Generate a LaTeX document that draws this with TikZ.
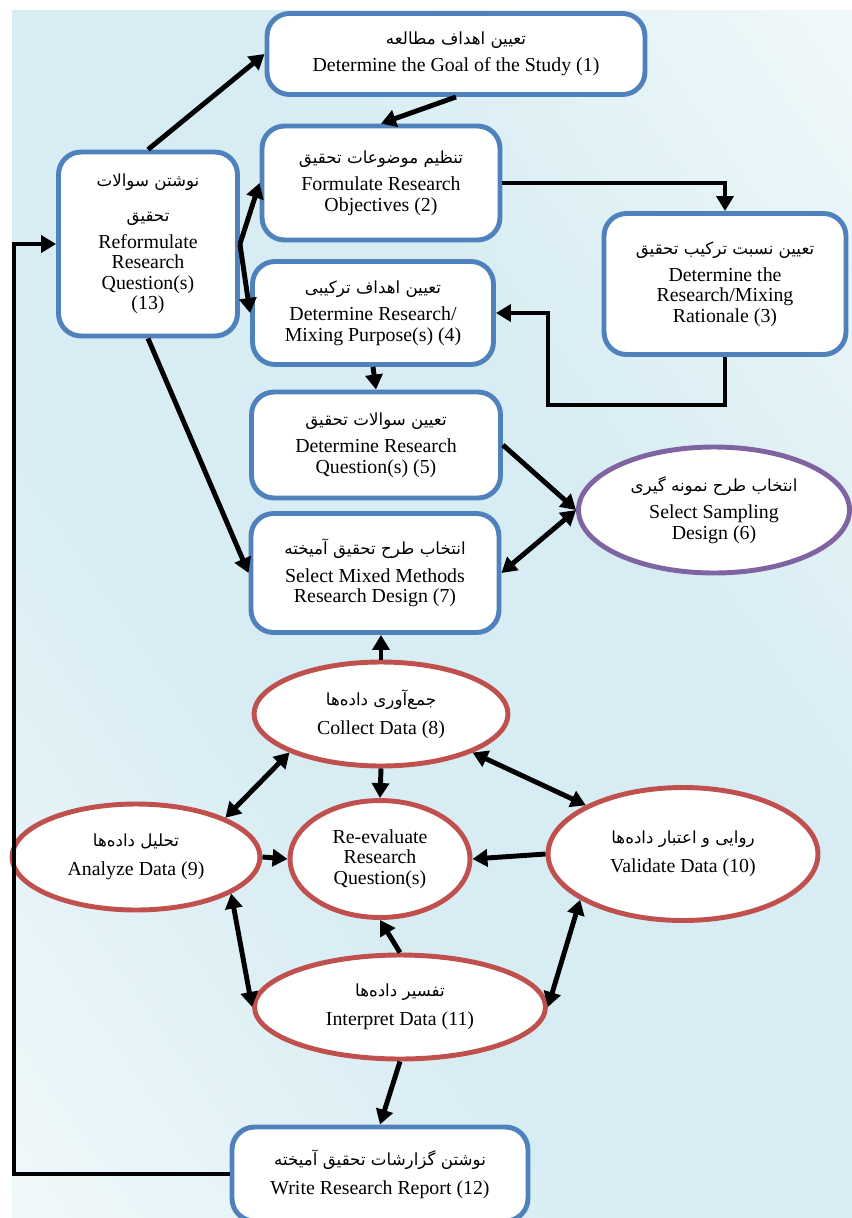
\documentclass[tikz,border=0pt]{standalone}
\usepackage{fontspec}
\setmainfont{Liberation Serif}
\newfontfamily\farsifont[Script=Arabic]{DejaVu Sans}
\TeXXeTstate=1
\usetikzlibrary{shapes.geometric,arrows.meta}
\definecolor{boxblue}{HTML}{4F81BD}
\definecolor{ovalred}{HTML}{C0504D}
\definecolor{ovalpurple}{HTML}{8064A2}
\definecolor{bgblue}{HTML}{D8EDF3}
\definecolor{bgpale}{HTML}{FBFDFE}
\pgfdeclareverticalshading{bgband}{100bp}{color(0bp)=(bgpale); color(18bp)=(bgpale); color(42bp)=(bgblue); color(58bp)=(bgblue); color(82bp)=(bgpale); color(100bp)=(bgpale)}
\newcommand{\fatext}[1]{{\farsifont\fontsize{9.5}{11}\selectfont\beginR #1\endR}}

\begin{document}
\begin{tikzpicture}[x=0.02cm,y=-0.02cm,
	stepbox/.style={draw=boxblue,line width=2.8pt,rounded corners=0.45cm,fill=white,align=center,font=\fontsize{11.3}{11.6}\selectfont,inner sep=2pt},
	dataoval/.style={ellipse,draw=ovalred,line width=2.8pt,fill=white,align=center,font=\fontsize{11.3}{11.6}\selectfont,inner sep=0pt},
	flow/.style={line width=2.8pt,-{Triangle[length=0.3cm,width=0.34cm]}},
	twoway/.style={line width=2.8pt,{Triangle[length=0.3cm,width=0.34cm]}-{Triangle[length=0.3cm,width=0.34cm]}}]
	\useasboundingbox (0,0) rectangle (852,1218);
	\begin{scope}
	\clip (12,10) rectangle (852,1218);
	\fill[bgpale] (12,10) rectangle (852,1218);
	\begin{scope}[transform canvas={rotate around={-55:(432,614)}}]
	\shade[shading=bgband] (-400,-86) rectangle (1264,1314);
	\end{scope}
	\end{scope}
	\node[stepbox,minimum width=7.56cm,minimum height=1.62cm] (b1) at (456,54) {\fatext{تعیین اهداف مطالعه}\\[4pt]Determine the Goal of the Study (1)};
	\node[stepbox,minimum width=4.76cm,minimum height=2.28cm] (b2) at (381,183) {\fatext{تنظیم موضوعات تحقیق}\\[4pt]Formulate Research\\Objectives (2)};
	\node[stepbox,minimum width=4.84cm,minimum height=2.82cm] (b3) at (725,284) {\fatext{تعیین نسبت ترکیب تحقیق}\\[4pt]Determine the\\Research/Mixing\\Rationale (3)};
	\node[stepbox,minimum width=4.82cm,minimum height=2.06cm] (b4) at (373,313) {\fatext{تعیین اهداف ترکیبی}\\[4pt]Determine Research/\\Mixing Purpose(s) (4)};
	\node[stepbox,minimum width=4.98cm,minimum height=2.12cm] (b5) at (376,445) {\fatext{تعیین سوالات تحقیق}\\[4pt]Determine Research\\Question(s) (5)};
	\node[ellipse,draw=ovalpurple,line width=2.8pt,fill=white,align=center,font=\fontsize{11.3}{11.6}\selectfont,inner sep=0pt,minimum width=5.42cm,minimum height=2.52cm] (e6) at (714,510) {\fatext{انتخاب طرح نمونه گیری}\\[4pt]Select Sampling\\Design (6)};
	\node[stepbox,minimum width=4.96cm,minimum height=2.38cm] (b7) at (375,573) {\fatext{انتخاب طرح تحقیق آمیخته}\\[4pt]Select Mixed Methods\\Research Design (7)};
	\node[dataoval,minimum width=5.08cm,minimum height=2.08cm] (e8) at (381,714) {\fatext{جمع^^^^200cآوری داده^^^^200cها}\\[5pt]Collect Data (8)};
	\node[dataoval,minimum width=4.96cm,minimum height=2.12cm] (e9) at (136,857) {\fatext{تحلیل داده^^^^200cها}\\[5pt]Analyze Data (9)};
	\node[dataoval,minimum width=5.4cm,minimum height=2.66cm] (e10) at (683,854) {\fatext{روایی و اعتبار داده^^^^200cها}\\[5pt]Validate Data (10)};
	\node[dataoval,minimum width=3.6cm,minimum height=2.34cm] (ec) at (380,859) {Re-evaluate\\Research\\Question(s)};
	\node[dataoval,minimum width=5.82cm,minimum height=2.08cm] (e11) at (400,1007) {\fatext{تفسیر داده^^^^200cها}\\[5pt]Interpret Data (11)};
	\node[stepbox,minimum width=5.92cm,minimum height=1.88cm] (b12) at (380,1174) {\fatext{نوشتن گزارشات تحقیق آمیخته}\\[5pt]Write Research Report (12)};
	\node[stepbox,minimum width=3.58cm,minimum height=3.68cm] (b13) at (148,244) {\fatext{نوشتن سوالات}\\[8pt]\fatext{تحقیق}\\[4pt]Reformulate\\Research\\Question(s)\\(13)};
	\coordinate (turn34) at (548,405);
	\coordinate (turn1213) at (14,1174);
	\draw[flow] (b13.north) -- (b1.west);
	\draw[flow] (b1.south) -- (b2.north);
	\draw[flow] (b13.east) -- (b2.west);
	\draw[flow] (b13.east) -- (b4.west);
	\draw[flow] (b2.east) -| (b3.north);
	\draw[flow] (b3.south) |- (turn34) |- (b4.east);
	\draw[flow] (b4.south) -- (b5.north);
	\draw[flow] (b5.east) -- (e6.west);
	\draw[twoway] (e6.west) -- (b7.east);
	\draw[flow] (b13.south) -- (b7.west);
	\draw[flow] (e8.north) -- (e8.north |- b7.south);
	\draw[flow] (e8.south) -- (ec.north);
	\draw[twoway] (e8.south west) -- (e9.north east);
	\draw[twoway] (e8.south east) -- (e10.north west);
	\draw[flow] (e9.east) -- (ec.west);
	\draw[flow] (e10.west) -- (ec.east);
	\draw[flow] (e11.north) -- (ec.south);
	\draw[twoway] (e9.-21) -- (e11.west);
	\draw[twoway] (e10.204) -- (e11.east);
	\draw[flow] (e11.south) -- (b12.north);
	\draw[flow] (b12.west) -- (turn1213) |- (b13.west);
\end{tikzpicture}
\end{document}
